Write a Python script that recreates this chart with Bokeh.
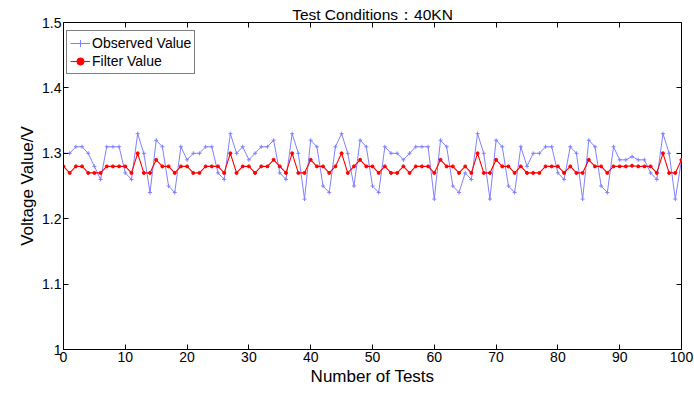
from bokeh.plotting import figure
from bokeh.models import (Range1d, LinearAxis, FixedTicker, CustomJSTickFormatter,
                          Legend, LegendItem)
from bokeh.embed import file_html
from bokeh.resources import INLINE

tests = list(range(0, 101))
observed = [1.30, 1.30, 1.31, 1.31, 1.30, 1.28, 1.26, 1.31, 1.31, 1.31,
            1.27, 1.26, 1.33, 1.30, 1.24, 1.32, 1.31, 1.25, 1.24, 1.31,
            1.29, 1.30, 1.30, 1.31, 1.31, 1.27, 1.26, 1.33, 1.30, 1.31,
            1.29, 1.30, 1.31, 1.31, 1.32, 1.27, 1.26, 1.33, 1.30, 1.23,
            1.32, 1.31, 1.25, 1.24, 1.31, 1.33, 1.30, 1.25, 1.32, 1.31,
            1.25, 1.24, 1.31, 1.30, 1.30, 1.29, 1.30, 1.31, 1.31, 1.31,
            1.23, 1.32, 1.31, 1.25, 1.24, 1.27, 1.26, 1.33, 1.30, 1.23,
            1.32, 1.31, 1.25, 1.24, 1.31, 1.28, 1.30, 1.30, 1.31, 1.31,
            1.27, 1.26, 1.31, 1.30, 1.23, 1.32, 1.31, 1.25, 1.24, 1.31,
            1.29, 1.29, 1.295, 1.29, 1.29, 1.27, 1.26, 1.33, 1.30, 1.23,
            1.29]
filtered = [1.28, 1.27, 1.28, 1.28, 1.27, 1.27, 1.27, 1.28, 1.28, 1.28,
            1.28, 1.27, 1.30, 1.27, 1.27, 1.29, 1.28, 1.28, 1.27, 1.28,
            1.28, 1.27, 1.27, 1.28, 1.28, 1.28, 1.27, 1.30, 1.27, 1.28,
            1.28, 1.27, 1.28, 1.28, 1.29, 1.28, 1.27, 1.30, 1.27, 1.27,
            1.29, 1.28, 1.28, 1.27, 1.28, 1.30, 1.27, 1.28, 1.29, 1.28,
            1.28, 1.27, 1.28, 1.27, 1.27, 1.28, 1.27, 1.28, 1.28, 1.28,
            1.27, 1.29, 1.28, 1.28, 1.27, 1.28, 1.27, 1.30, 1.27, 1.27,
            1.29, 1.28, 1.28, 1.27, 1.28, 1.27, 1.27, 1.27, 1.28, 1.28,
            1.28, 1.27, 1.28, 1.27, 1.27, 1.29, 1.28, 1.28, 1.27, 1.28,
            1.28, 1.28, 1.281, 1.28, 1.28, 1.28, 1.27, 1.30, 1.27, 1.27,
            1.29]
x_ticks = [0, 10, 20, 30, 40, 50, 60, 70, 80, 90, 100]
y_ticks = [1.0, 1.1, 1.2, 1.3, 1.4, 1.5]
title_text = "Test Conditions\uff1a40KN"
x_label = "Number of Tests"
y_label = "Voltage Value/V"
series_names = ["Observed Value", "Filter Value"]

FONT = "Liberation Sans"

p = figure(width=694, height=397, output_backend="svg", toolbar_location=None,
           x_range=Range1d(0, 100), y_range=Range1d(1.0, 1.5),
           min_border_left=63, min_border_right=13, min_border_top=22,
           min_border_bottom=48)
p.title.text = title_text
p.title.align = "center"
p.title.text_font = FONT
p.title.text_font_size = "15.5px"
p.title.text_font_style = "normal"
p.title.text_color = "black"
p.title.standoff = 0
p.title.offset = 0

p.xgrid.visible = False
p.ygrid.visible = False
p.outline_line_color = "black"
p.outline_line_alpha = 1
p.outline_line_width = 1
p.background_fill_color = "white"
p.border_fill_color = "white"

fmt = CustomJSTickFormatter(code="return tick.toFixed(1).replace(/\\.0$/, '');")
blank = CustomJSTickFormatter(code="return '';")

for ax in p.xaxis:
    ax.ticker = FixedTicker(ticks=x_ticks)
for ax in p.yaxis:
    ax.ticker = FixedTicker(ticks=y_ticks)
    ax.formatter = fmt

for ax in list(p.xaxis) + list(p.yaxis):
    ax.major_tick_in = 5
    ax.major_tick_out = 0
    ax.minor_tick_in = 0
    ax.minor_tick_out = 0
    ax.axis_line_color = "black"
    ax.major_tick_line_color = "black"
    ax.major_label_text_font = FONT
    ax.major_label_text_font_size = "14px"
    ax.major_label_text_color = "black"
    ax.axis_label_text_font = FONT
    ax.axis_label_text_font_size = "17px"
    ax.axis_label_text_font_style = "normal"
    ax.axis_label_text_color = "black"
    ax.major_label_standoff = 2
    ax.axis_label_standoff = 2

p.xaxis.axis_label = x_label
p.yaxis.axis_label = y_label

top_ax = LinearAxis(ticker=FixedTicker(ticks=x_ticks), formatter=blank,
                    major_tick_in=5, major_tick_out=0, minor_tick_in=0, minor_tick_out=0,
                    major_label_standoff=0, axis_line_color=None,
                    major_tick_line_color="black")
right_ax = LinearAxis(ticker=FixedTicker(ticks=y_ticks), formatter=blank,
                      major_tick_in=5, major_tick_out=0, minor_tick_in=0, minor_tick_out=0,
                      major_label_standoff=0, axis_line_color=None,
                      major_tick_line_color="black")
p.add_layout(top_ax, "above")
p.add_layout(right_ax, "right")

blue = "#8080ff"
red = "#ff0000"
l1 = p.line(tests, observed, line_color=blue, line_width=1)
m1 = p.scatter(tests, observed, marker="cross", size=4, line_color=blue, line_width=1)
l2 = p.line(tests, filtered, line_color=red, line_width=1.1)
m2 = p.scatter(tests, filtered, marker="circle", size=3, fill_color=red, line_color=red)

legend = Legend(items=[LegendItem(label=series_names[0], renderers=[l1, m1]),
                       LegendItem(label=series_names[1], renderers=[l2, m2])],
                location=(3, 275))
legend.label_text_font = FONT
legend.label_text_font_size = "14px"
legend.label_text_color = "black"
legend.glyph_width = 20
legend.glyph_height = 18
legend.label_height = 18
legend.label_standoff = 2
legend.spacing = 0
legend.padding = 3
legend.margin = 0
legend.border_line_color = "black"
legend.border_line_width = 1
legend.background_fill_color = "white"
legend.background_fill_alpha = 1
p.add_layout(legend)

open("out.html", "w").write(file_html(p, INLINE))
